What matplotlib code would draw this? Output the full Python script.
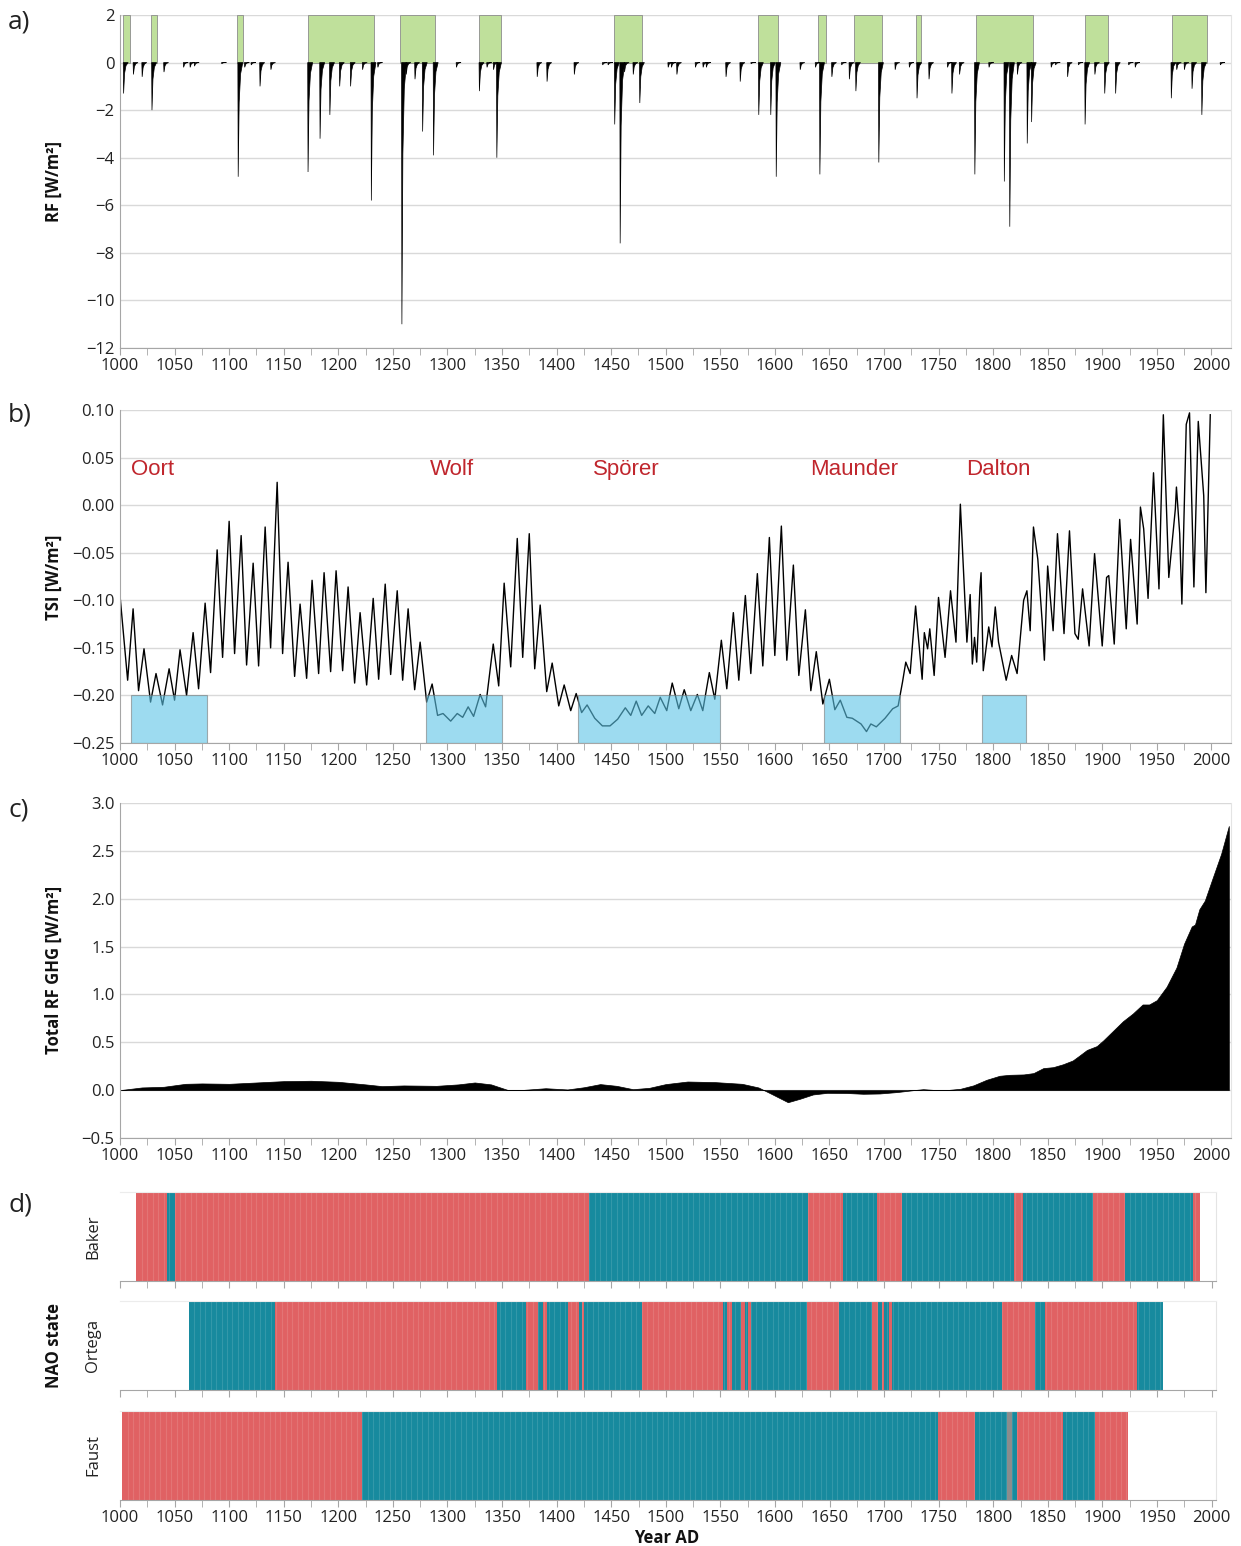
import numpy as np
import matplotlib.pyplot as plt
from matplotlib.ticker import MultipleLocator, FuncFormatter

plt.rcParams['font.family'] = ['Open Sans', 'DejaVu Sans']

# a) volcanic forcing: eruption year and peak forcing [W/m2]
volc_years = [1003, 1012, 1020, 1029, 1040, 1058, 1064, 1068, 1093, 1108, 1114, 1120, 1128, 1138,
              1172, 1183, 1192, 1201, 1211, 1222, 1230, 1236, 1258, 1262, 1270, 1277, 1287, 1308,
              1329, 1336, 1342, 1345, 1382, 1391, 1416, 1442, 1447, 1453, 1458, 1462, 1470, 1476,
              1502, 1505, 1510, 1527, 1534, 1537, 1555, 1568, 1578, 1585, 1596, 1601, 1623, 1637,
              1641, 1652, 1661, 1668, 1674, 1695, 1710, 1723, 1730, 1741, 1758, 1762, 1769, 1783,
              1796, 1810, 1815, 1822, 1831, 1835, 1853, 1857, 1868, 1878, 1884, 1893, 1902, 1912,
              1924, 1930, 1963, 1968, 1975, 1982, 1991, 2008]
volc_peaks = [-1.3, -0.5, -0.6, -2.0, -0.4, -0.2, -0.2, -0.15, -0.05, -4.8, -0.2, -0.1, -1.0, -0.3,
              -4.6, -3.2, -2.2, -1.0, -1.0, -0.3, -5.8, -0.2, -11.0, -0.5, -0.7, -2.9, -3.9, -0.2,
              -1.2, -0.2, -0.3, -4.0, -0.6, -0.8, -0.5, -0.1, -0.1, -2.6, -7.6, -0.4, -0.5, -1.7,
              -0.2, -0.2, -0.5, -0.2, -0.2, -0.2, -0.6, -0.8, -0.05, -2.2, -2.2, -4.8, -0.3, -0.2,
              -4.7, -0.6, -0.1, -0.7, -1.2, -4.2, -0.3, -0.2, -1.5, -0.7, -0.2, -1.3, -0.5, -4.7,
              -0.2, -5.0, -6.9, -0.5, -3.4, -2.5, -0.2, -0.1, -0.6, -0.1, -2.6, -0.5, -1.3, -1.3,
              -0.1, -0.2, -1.5, -0.3, -0.3, -1.1, -2.2, -0.1]
green_start = [1003, 1028, 1107, 1172, 1257, 1329, 1453, 1585, 1640, 1673, 1729, 1784, 1884, 1964]
green_end = [1009, 1034, 1113, 1233, 1289, 1349, 1478, 1603, 1647, 1698, 1734, 1837, 1905, 1996]

# b) total solar irradiance anomaly (turning points read from the figure)
tsi_years = [1000, 1007, 1012, 1017, 1022, 1028, 1033, 1039, 1045, 1050, 1055, 1061, 1067, 1072,
             1078, 1083, 1089, 1094, 1100, 1105, 1111, 1116, 1122, 1127, 1133, 1138, 1144, 1149,
             1154, 1160, 1165, 1171, 1176, 1182, 1187, 1193, 1198, 1204, 1209, 1215, 1220, 1226,
             1232, 1237, 1243, 1248, 1254, 1259, 1264, 1270, 1275, 1281, 1286, 1291, 1296, 1303,
             1309, 1314, 1319, 1324, 1330, 1335, 1342, 1347, 1352, 1358, 1364, 1369, 1375, 1380,
             1385, 1391, 1396, 1402, 1407, 1413, 1418, 1423, 1428, 1435, 1442, 1449, 1456, 1463,
             1468, 1473, 1478, 1484, 1490, 1495, 1501, 1506, 1512, 1517, 1523, 1529, 1534, 1540,
             1545, 1551, 1556, 1562, 1567, 1573, 1578, 1584, 1589, 1595, 1600, 1606, 1611, 1617,
             1622, 1628, 1633, 1638, 1644, 1650, 1655, 1660, 1666, 1671, 1679, 1684, 1688, 1693,
             1701, 1708, 1713, 1717, 1720, 1724, 1729, 1732, 1735, 1737, 1740, 1742, 1746, 1750,
             1756, 1761, 1766, 1770, 1776, 1779, 1781, 1783, 1785, 1788, 1789, 1791, 1796, 1799,
             1802, 1805, 1812, 1817, 1822, 1828, 1831, 1834, 1837, 1841, 1845, 1847, 1850, 1855,
             1859, 1865, 1870, 1875, 1878, 1882, 1888, 1893, 1900, 1904, 1906, 1911, 1916, 1922,
             1926, 1932, 1935, 1938, 1942, 1947, 1952, 1956, 1961, 1967, 1968, 1971, 1973, 1977,
             1980, 1984, 1988, 1993, 1995, 1999]
tsi_values = [-0.095, -0.184, -0.109, -0.195, -0.151, -0.207, -0.177, -0.210, -0.172, -0.205, -0.152,
              -0.200, -0.134, -0.193, -0.103, -0.176, -0.047, -0.160, -0.017, -0.156, -0.032, -0.168,
              -0.061, -0.169, -0.023, -0.150, 0.024, -0.156, -0.060, -0.180, -0.104, -0.182, -0.079,
              -0.177, -0.071, -0.175, -0.069, -0.174, -0.086, -0.187, -0.113, -0.189, -0.098, -0.183,
              -0.083, -0.178, -0.090, -0.184, -0.109, -0.194, -0.144, -0.207, -0.188, -0.221, -0.219,
              -0.227, -0.219, -0.223, -0.212, -0.222, -0.199, -0.212, -0.146, -0.190, -0.082, -0.170,
              -0.035, -0.160, -0.030, -0.172, -0.105, -0.196, -0.166, -0.211, -0.189, -0.216, -0.198,
              -0.218, -0.210, -0.224, -0.232, -0.232, -0.225, -0.213, -0.221, -0.206, -0.221, -0.211,
              -0.219, -0.202, -0.216, -0.187, -0.214, -0.194, -0.216, -0.199, -0.216, -0.176, -0.204,
              -0.142, -0.193, -0.113, -0.184, -0.095, -0.177, -0.072, -0.169, -0.034, -0.158, -0.022,
              -0.163, -0.063, -0.179, -0.110, -0.195, -0.154, -0.209, -0.183, -0.215, -0.205, -0.223,
              -0.224, -0.230, -0.238, -0.230, -0.233, -0.224, -0.214, -0.211, -0.186, -0.165, -0.177,
              -0.106, -0.144, -0.183, -0.134, -0.151, -0.130, -0.179, -0.097, -0.160, -0.090, -0.144,
              0.001, -0.144, -0.094, -0.167, -0.139, -0.165, -0.086, -0.071, -0.174, -0.128, -0.149,
              -0.107, -0.144, -0.184, -0.158, -0.177, -0.100, -0.090, -0.132, -0.023, -0.057, -0.123,
              -0.163, -0.064, -0.132, -0.030, -0.135, -0.027, -0.135, -0.141, -0.088, -0.148, -0.051,
              -0.148, -0.076, -0.074, -0.146, -0.015, -0.130, -0.036, -0.125, -0.002, -0.025, -0.098,
              0.034, -0.088, 0.095, -0.076, -0.004, 0.019, -0.030, -0.104, 0.085, 0.097, -0.086,
              0.088, 0.010, -0.092, 0.095]
minima_names = ['Oort', 'Wolf', 'Spörer', 'Maunder', 'Dalton']
minima_start = [1010, 1280, 1420, 1645, 1790]
minima_end = [1080, 1350, 1550, 1715, 1830]
minima_label_x = [1010, 1284, 1433, 1632, 1775]

# c) total GHG radiative forcing
ghg_years = [1000, 1020, 1040, 1060, 1075, 1100, 1125, 1150, 1175, 1200, 1225, 1240, 1260, 1290,
             1310, 1325, 1340, 1355, 1370, 1390, 1410, 1425, 1440, 1455, 1470, 1485, 1500, 1520,
             1545, 1570, 1585, 1595, 1612, 1623, 1635, 1648, 1666, 1681, 1696, 1712, 1727, 1736,
             1745, 1757, 1770, 1782, 1794, 1806, 1815, 1828, 1837, 1846, 1855, 1864, 1873, 1879,
             1886, 1895, 1901, 1910, 1919, 1928, 1937, 1943, 1950, 1959, 1968, 1975, 1982, 1985,
             1989, 1994, 2001, 2009, 2016]
ghg_values = [0.0, 0.028, 0.035, 0.066, 0.07, 0.066, 0.08, 0.094, 0.098, 0.087, 0.06, 0.042, 0.049,
              0.045, 0.06, 0.08, 0.06, 0.003, 0.003, 0.02, 0.007, 0.03, 0.063, 0.045, 0.01, 0.024,
              0.063, 0.09, 0.084, 0.066, 0.028, -0.028, -0.126, -0.09, -0.045, -0.028, -0.03, -0.038,
              -0.035, -0.02, 0.0, 0.01, 0.003, 0.0, 0.014, 0.05, 0.108, 0.15, 0.16, 0.164, 0.178,
              0.23, 0.24, 0.27, 0.31, 0.36, 0.42, 0.46, 0.52, 0.62, 0.72, 0.80, 0.895, 0.895, 0.94,
              1.08, 1.28, 1.53, 1.71, 1.73, 1.89, 1.98, 2.21, 2.47, 2.76]

# d) NAO state reconstructions: segment edges and state (+ red, - blue, 0 undetermined)
baker_edges = [1015, 1043, 1050, 1430, 1630, 1662, 1693, 1716, 1819, 1827, 1891, 1921, 1983, 1989]
baker_states = ['+', '-', '+', '-', '+', '-', '+', '-', '+', '-', '+', '-', '+']
ortega_edges = [1063, 1142, 1345, 1372, 1383, 1387.5, 1391, 1410, 1420.5, 1423, 1425, 1478, 1552.5,
                1556, 1561, 1569, 1572.5, 1575, 1578, 1629, 1659, 1689, 1694.5, 1698, 1700, 1704.5,
                1707, 1808, 1838, 1847, 1932, 1955]
ortega_states = ['-', '+', '-', '+', '-', '+', '-', '+', '-', '+', '-', '+', '-', '+', '-', '+',
                 '-', '+', '-', '+', '-', '+', '-', '+', '-', '+', '-', '+', '-', '+', '-']
faust_edges = [1002, 1222, 1749, 1783, 1813, 1817, 1822, 1864, 1893, 1923]
faust_states = ['+', '-', '+', '-', '0', '-', '+', '-', '+']

state_colors = {'+': '#e06163', '-': '#178a9e', '0': '#8c8c8c'}
GREEN = '#bfe09b'
RED_TXT = '#c0262d'
GRID = '#d9d9d9'
AXC = '#a6a6a6'
W, H = 1241, 1546

fig = plt.figure(figsize=(W / 100, H / 100), dpi=100)


def px_axes(x0, y0, x1, y1):
    return fig.add_axes([x0 / W, 1 - y1 / H, (x1 - x0) / W, (y1 - y0) / H])


def fmt(decimals):
    def f(v, pos):
        if abs(v) < 1e-9:
            v = 0.0
        return f'{v:.{decimals}f}'.replace('-', '\u2212')
    return FuncFormatter(f)


def style(ax, ylo, yhi, step, decimals, xmax=2018):
    ax.set_xlim(1000, xmax)
    ax.set_ylim(ylo, yhi)
    ax.xaxis.set_major_locator(MultipleLocator(50))
    ax.xaxis.set_minor_locator(MultipleLocator(25))
    ax.yaxis.set_major_locator(MultipleLocator(step))
    ax.yaxis.set_major_formatter(fmt(decimals))
    ax.grid(axis='y', color=GRID, lw=1)
    ax.set_axisbelow(True)
    ax.spines['top'].set_visible(False)
    ax.spines['right'].set_color('#e4e4e4')
    ax.spines['left'].set_color(AXC)
    ax.spines['bottom'].set_color(AXC)
    ax.tick_params(axis='x', which='both', direction='out', length=5, color=AXC,
                   labelsize=12, labelcolor='#222222', pad=2)
    ax.tick_params(axis='y', length=0, labelsize=12, labelcolor='#222222', pad=4)


# ---- a) volcanic RF
ax_a = px_axes(120, 15, 1231, 348)
style(ax_a, -12, 2, 2, 0)
ax_a.bar(green_start, 2, width=np.subtract(green_end, green_start), align='edge',
         color=GREEN, edgecolor='#8c8c8c', lw=0.6, zorder=2)
for t, p in zip(volc_years, volc_peaks):
    ax_a.fill([t, t + 0.3, t + 1.2, t + 2.5, t + 4.5], [0, p, 0.35 * p, 0.1 * p, 0],
              color='black', lw=0.5, zorder=3)

# ---- b) TSI
ax_b = px_axes(120, 410, 1231, 743)
style(ax_b, -0.25, 0.10, 0.05, 2)
ax_b.plot(tsi_years, tsi_values, color='black', lw=1.0, zorder=2, solid_joinstyle='round')
ax_b.bar(minima_start, 0.05, width=np.subtract(minima_end, minima_start), bottom=-0.25,
         align='edge', color='#5cc4e6', alpha=0.6, edgecolor='#7a7a7a', lw=0.8, zorder=3)
for name, x in zip(minima_names, minima_label_x):
    ax_b.text(x, 0.037, name, color=RED_TXT, fontsize=16, family=['Liberation Sans', 'DejaVu Sans'],
              va='center', ha='left')

# ---- c) GHG
ax_c = px_axes(120, 803, 1231, 1138)
style(ax_c, -0.5, 3.0, 0.5, 1)
ax_c.fill_between(ghg_years, ghg_values, 0, color='black', lw=0.5, zorder=2)

# ---- d) NAO
records = [('Baker', baker_edges, baker_states, 1192, 1281),
           ('Ortega', ortega_edges, ortega_states, 1301, 1390),
           ('Faust', faust_edges, faust_states, 1411, 1500)]
for i, (name, edges, states, y0, y1) in enumerate(records):
    ax = px_axes(120, y0, 1216, y1)
    style(ax, 0, 1, 1, 0, xmax=2004)
    ax.grid(False)
    ax.set_yticks([])
    ax.spines['left'].set_visible(False)
    ax.spines['top'].set_visible(True)
    ax.spines['top'].set_color('#ececec')
    ax.bar(edges[:-1], 1, width=np.diff(edges), align='edge',
           color=[state_colors[s] for s in states], lw=0)
    stripes = np.arange(edges[0] + 5, edges[-1], 5)
    ax.vlines(stripes, 0, 1, color='white', alpha=0.12, lw=0.8)
    if i < 2:
        ax.tick_params(axis='x', labelbottom=False)
    fig.text(93 / W, 1 - (y0 + y1) / 2 / H, name, rotation=90, ha='center', va='center',
             fontsize=12, color='#222222')

# labels
for lab, y in zip(['a)', 'b)', 'c)', 'd)'], [22, 415, 810, 1205]):
    fig.text(8 / W, 1 - y / H, lab, fontsize=19, ha='left', va='center', color='#222222')
for lab, y in zip(['RF [W/m²]', 'TSI [W/m²]', 'Total RF GHG [W/m²]', 'NAO state'],
                  [181, 577, 970, 1345]):
    fig.text(54 / W, 1 - y / H, lab, rotation=90, fontsize=12, fontweight='bold',
             ha='center', va='center', color='#111111')
fig.text(667 / W, 1 - 1538 / H, 'Year AD', fontsize=12, fontweight='bold',
         ha='center', va='center', color='#111111')

fig.savefig('out.png', dpi=100)
